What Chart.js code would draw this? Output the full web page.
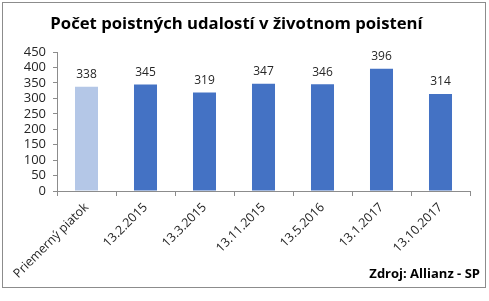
<!DOCTYPE html>
<html>
<head>
<meta charset="utf-8">
<script src="https://cdn.jsdelivr.net/npm/chart.js@4.4.1/dist/chart.umd.min.js"></script>
<style>
  body { margin: 0; background: #fff; font-family: "Open Sans", sans-serif; }
  #frame {
    position: absolute; left: 2px; top: 2px;
    width: 484px; height: 286px;
    box-sizing: border-box; border: 1px solid #8c8c8c; background: #fff;
  }
  #chart { display: block; }
  #source {
    position: absolute; right: 5px; bottom: 5px;
    font: bold 13px "Open Sans", sans-serif; color: #000;
  }
</style>
</head>
<body>
<div id="frame">
  <canvas id="chart" width="482" height="284"></canvas>
  <div id="source">Zdroj: Allianz - SP</div>
</div>
<script>
// ── Data ────────────────────────────────────────────────────────────────
const categories = ['Priemerný piatok', '13.2.2015', '13.3.2015', '13.11.2015', '13.5.2016', '13.1.2017', '13.10.2017'];
const claims     = [338, 345, 319, 347, 346, 396, 314];
const barColors  = ['#b4c7e7', '#4472c4', '#4472c4', '#4472c4', '#4472c4', '#4472c4', '#4472c4'];
const yTicks     = [0, 50, 100, 150, 200, 250, 300, 350, 400, 450];

// ── Value labels above bars ─────────────────────────────────────────────
const valueLabels = {
    id: 'valueLabels',
    afterDatasetsDraw: (chart) => {
        const ctx = chart.ctx;
        const meta = chart.getDatasetMeta(0);
        ctx.save();
        ctx.font = '12px "Open Sans", sans-serif';
        ctx.fillStyle = '#262626';
        ctx.textAlign = 'center';
        ctx.textBaseline = 'bottom';
        meta.data.forEach((bar, i) => {
            ctx.fillText(String(claims[i]), bar.x, bar.y - 6);
        });
        ctx.restore();
    }
};

const axisColor = '#8c8c8c';

new Chart(document.getElementById('chart'), {
    type: 'bar',
    data: {
        labels: categories,
        datasets: [{
            data: claims,
            backgroundColor: barColors,
            borderWidth: 0,
            categoryPercentage: 1,
            barPercentage: 0.39
        }]
    },
    options: {
        responsive: false,
        animation: false,
        layout: { padding: { top: 11, left: 0, right: 15, bottom: 0 } },
        plugins: {
            legend: { display: false },
            tooltip: { enabled: false },
            title: {
                display: true,
                text: 'Počet poistných udalostí v životnom poistení',
                color: '#000',
                font: { family: '"Open Sans", sans-serif', size: 16.7, weight: 'bold' },
                padding: { top: 0, bottom: 18 }
            }
        },
        scales: {
            x: {
                grid: { display: true, drawOnChartArea: false, color: axisColor, tickLength: 5, offset: true },
                border: { color: axisColor },
                ticks: {
                    color: '#262626',
                    font: { family: '"Open Sans", sans-serif', size: 12.5 },
                    minRotation: 45, maxRotation: 45,
                    padding: 4
                },
                afterFit: (s) => { s.height = 96; }
            },
            y: {
                min: 0, max: 450,
                afterBuildTicks: (s) => { s.ticks = yTicks.map(v => ({ value: v })); },
                grid: { display: true, drawOnChartArea: false, color: axisColor, tickLength: 4 },
                border: { color: axisColor },
                ticks: {
                    autoSkip: false,
                    color: '#262626',
                    font: { family: '"Open Sans", sans-serif', size: 13 },
                    padding: 7
                },
                afterFit: (s) => { s.width = 54; }
            }
        }
    },
    plugins: [valueLabels]
});
</script>
</body>
</html>
